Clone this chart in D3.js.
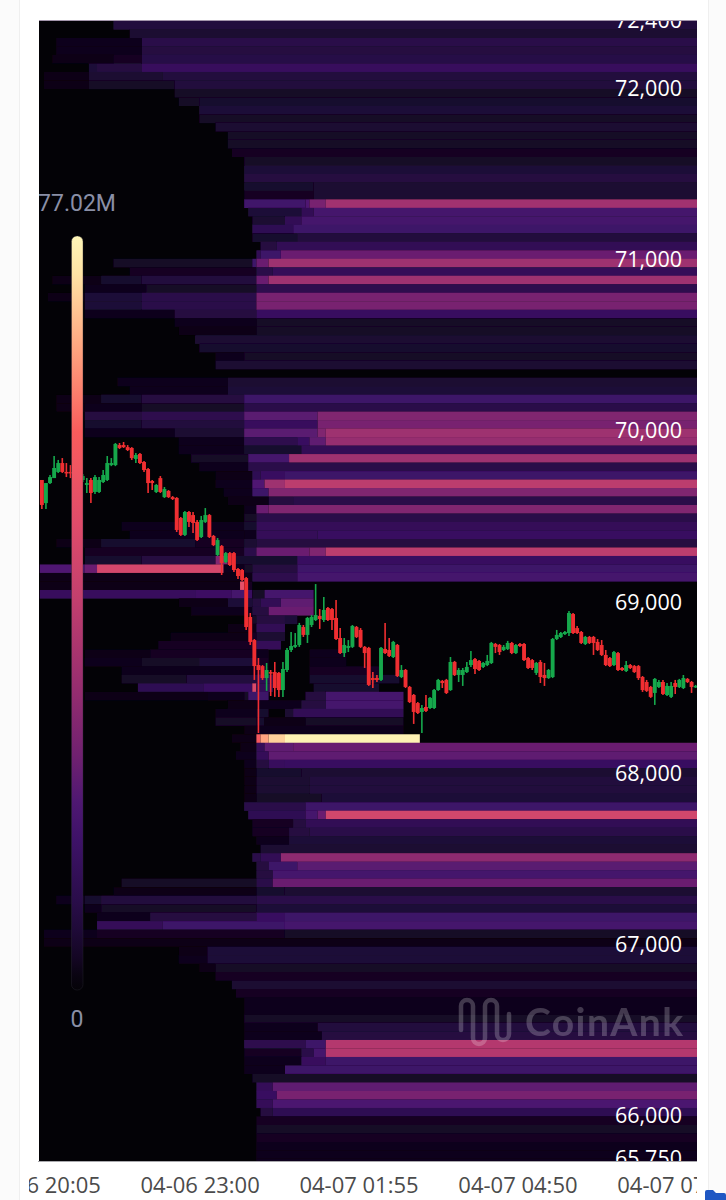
<!DOCTYPE html>
<html>
<head>
<meta charset="utf-8">
<script src="https://cdnjs.cloudflare.com/ajax/libs/d3/7.8.5/d3.min.js"></script>
<style>
html, body { margin: 0; padding: 0; background: #fbfbfb; }
svg { display: block; }
text { font-family: "Open Sans", sans-serif; }
</style>
</head>
<body>
<script>
(function(){

//candles, BTC price
var opens = [69710,69575,69692,69721,69757,69809,69757,69757,69751,69733,69710,69681,69710,69640,69640,69698,69710,69797,69797,69914,69914,69902,69897,69833,69862,69815,69774,69704,69640,69721,69610,69646,69610,69605,69488,69389,69523,69505,69465,69377,69465,69505,69383,69272,69324,69231,69283,69283,69190,69184,69137,68910,68775,68629,68623,68553,68588,68588,68583,68483,68600,68717,68735,68746,68851,68805,68863,68892,68916,68892,68962,68956,68904,68787,68699,68729,68735,68851,68834,68735,68729,68553,68553,68542,68723,68717,68676,68746,68559,68600,68501,68454,68407,68355,68384,68378,68378,68483,68536,68542,68483,68647,68571,68571,68588,68629,68664,68653,68618,68629,68641,68752,68746,68717,68723,68758,68699,68752,68752,68670,68658,68583,68647,68571,68553,68559,68781,68793,68810,68816,68927,68845,68822,68752,68793,68793,68764,68746,68688,68670,68629,68699,68612,68594,68629,68623,68623,68559,68530,68501,68466,68501,68530,68454,68443,68524,68501,68495,68548,68530,68501];
var highs = [69710,69692,69739,69850,69827,69838,69809,69797,69768,69768,69745,69721,69721,69739,69727,69768,69850,69838,69926,69926,69932,69914,69902,69868,69868,69821,69780,69710,69686,69733,69669,69651,69616,69610,69494,69529,69529,69523,69476,69500,69546,69511,69389,69371,69330,69289,69289,69289,69196,69190,69143,68933,68781,68670,68629,68641,68600,68647,68588,68647,68729,68822,68816,68875,68863,68910,68921,69102,68956,69027,68968,68962,69009,68845,68787,68775,68863,68857,68845,68740,68735,68588,68571,68735,68875,68787,68770,68752,68629,68606,68507,68460,68413,68396,68454,68443,68489,68548,68542,68548,68676,68653,68612,68612,68647,68711,68670,68658,68647,68688,68764,68758,68752,68746,68770,68764,68752,68758,68758,68676,68664,68647,68658,68641,68606,68787,68834,68822,68828,68945,68933,68857,68828,68799,68799,68799,68781,68775,68717,68676,68711,68705,68618,68653,68635,68629,68629,68565,68542,68507,68553,68542,68542,68524,68530,68542,68548,68571,68553,68536,68513];
var lows = [69540,69540,69686,69721,69751,69751,69727,69721,69710,69721,69698,69634,69575,69628,69634,69692,69704,69791,69791,69891,69897,69879,69827,69809,69803,69757,69634,69651,69634,69634,69605,69605,69593,69406,69383,69383,69435,69400,69353,69371,69459,69371,69324,69266,69155,69225,69207,69172,69132,69120,68834,68746,68542,68232,68542,68478,68448,68443,68443,68443,68588,68705,68729,68735,68793,68758,68851,68886,68840,68880,68886,68834,68775,68693,68676,68705,68729,68787,68729,68612,68507,68495,68530,68536,68693,68676,68670,68559,68553,68495,68407,68285,68343,68232,68355,68372,68372,68478,68495,68460,68478,68565,68530,68507,68583,68618,68577,68594,68612,68623,68635,68699,68688,68711,68717,68693,68693,68735,68653,68606,68600,68571,68524,68507,68548,68553,68775,68787,68805,68799,68810,68810,68752,68746,68752,68688,68711,68682,68623,68618,68623,68594,68594,68588,68606,68583,68542,68472,68472,68437,68396,68495,68454,68448,68437,68460,68495,68489,68524,68466,68495];
var closes = [69564,69692,69727,69780,69809,69757,69751,69751,69733,69757,69733,69692,69634,69727,69710,69739,69809,69809,69920,69897,69902,69885,69838,69856,69809,69768,69692,69692,69681,69640,69657,69610,69599,69418,69389,69523,69465,69459,69359,69476,69505,69377,69330,69359,69225,69283,69213,69184,69149,69126,68851,68764,68623,68600,68553,68600,68583,68495,68483,68606,68717,68740,68746,68863,68805,68904,68910,68921,68898,68951,68892,68892,68781,68699,68746,68740,68857,68793,68735,68699,68513,68542,68542,68729,68699,68682,68764,68565,68600,68501,68413,68355,68349,68378,68361,68437,68483,68542,68524,68466,68647,68571,68600,68600,68618,68658,68606,68600,68641,68653,68758,68735,68705,68735,68758,68699,68746,68740,68658,68612,68612,68641,68559,68553,68600,68781,68805,68816,68822,68933,68816,68816,68758,68793,68758,68758,68717,68688,68629,68623,68705,68600,68600,68629,68612,68588,68553,68483,68478,68443,68548,68530,68460,68507,68507,68501,68542,68553,68530,68501,68507];

//liquidation heat rows, top to bottom: start candle, share of the 77.02M peak (%), ...
var heatRows = [
[18,9],[22,7],[4,3,25,12],[4,3,25,10],[3,2,18,4,25,11],[12,8,14,10,25,17],[1,2,12,7,30,9],[1,2,12,5,33,9],
[33,5],[34,5,39,6],[39,8],[39,5],[43,7],[46,5],[46,5],[47,4],[50,5],[50,8],[50,10],[50,6,67,7],[50,4,67,7],
[50,21,65,25,66,33,70,43],[51,8,64,15,67,22],[52,7,60,15,64,22],[52,14,62,20],[52,6,63,9],[54,10,58,15],
[53,15,54,20,59,30],[18,5,52,20,53,30,56,42],[22,4,53,12,57,16],[3,2,15,6,25,9,53,30,56,42],[11,3,26,5,53,13],
[2,2,11,8,25,12,53,33],[11,8,25,12,53,33],[11,3,33,10,53,18],[33,3,53,5],[34,2,53,5],[38,7],[39,6],[43,3,50,5],
[43,7],[],[19,3,46,7],[22,3,46,8],[4,2,15,6,25,10,50,20],[4,2,11,3,25,5,50,12],[11,10,25,13,50,27,68,35],
[11,6,25,9,50,17,68,33],[11,3,33,7,50,27,68,35,70,42],[34,3,50,13,63,18,66,28,70,40],[34,3,50,6,64,15],
[37,5,51,22,61,42],[39,3,51,12],[43,2,52,14,54,18,60,20],[43,3,52,25,55,42,60,50],[45,3,52,20,56,35],
[46,2,56,10,62,12],[50,3,53,30,56,35],[50,5,53,12],[20,3,50,6,53,16],[22,3,50,3,53,16,68,18],
[4,2,15,6,38,4,50,7,53,10],[11,4,50,12,53,30,66,35,70,50],[11,6,25,10,43,35,46,6,63,18],
[0,25,11,30,14,58,45,3,50,5,52,10,63,20],[0,2,52,13,63,22],[0,2,49,65,50,4,52,0],
[0,17,38,19,47,22,50,18,52,5,55,22,67,0],[34,2,46,8,52,10,54,15,59,28,67,0],[37,3,52,10,56,30,67,0],
[52,5,53,10,60,8,63,0],[46,2,53,15,60,0],[32,2,52,4,53,7,60,0],[29,4,52,5,53,16,59,0],
[11,2,27,4,52,3,56,0,66,3,75,0],[11,3,25,5,39,8,53,4,56,0,66,3,75,0],[20,3,53,4,56,0,66,4,83,0],
[20,5,36,9,53,14,57,0,66,6,88,0],[24,14,40,18,52,60,53,15,57,0,67,6,83,0],
[11,2,41,3,50,5,51,20,56,0,65,10,70,22,89,0],[46,2,53,3,64,10,70,22,89,0],[43,3,53,6,56,0,60,7,62,15,89,0],
[43,5,53,6,55,2,65,5,89,0],[50,2,53,3,89,0],[47,2,53,72,54,85,56,92,60,99,93,0],
[49,2,53,16,55,28,62,30],[48,3,53,16,56,28],[50,3,53,10,56,17,60,18],[50,2,53,6,64,7],[50,2,53,7,66,9],
[50,2,53,7,66,9],[50,2,53,5,69,8],[50,12,65,20],[51,14,65,22,68,30,70,57],[52,4,62,10,65,15],
[52,4,61,10,66,12],[53,3,61,8],[54,7],[52,12,54,15,59,38],[53,10,56,20,63,27],[53,10,57,22],
[20,5,53,12,57,30],[18,2,53,6,60,7],[4,3,11,6,15,9,53,12],[11,3,15,5,53,8],[14,3,27,10,53,18,60,20],
[14,16,30,20,60,22],[1,3,14,4,60,5],[1,2],[34,2,41,8],[34,3,41,8],[39,2,43,5],[43,4],[47,7],[48,4],[50,3],
[50,3],[50,5],[50,3,68,9],[50,3,69,10],[50,13,65,20,70,48],[50,4,64,12,67,22,70,48],[50,3,64,17,70,20],
[50,3,60,20],[52,5],[53,16,57,28],[53,18,58,33],[53,16,57,24],[54,10,57,14],[53,4],[53,5],[53,4],[53,3],
[53,3],[53,3]
];

var priceTicks = [72400,72000,71000,70000,69000,68000,67000,66000,65750];
var timeTicks = ["2024-04-06T20:05Z","2024-04-06T23:00Z","2024-04-07T01:55Z","2024-04-07T04:50Z","2024-04-07T07:45Z"];

//colour ramp for the share of the peak
var rampStops = [0,2,4,8,12,20,25,30.5,40,51.7,62,74,85,95,100];
var rampColors = ["#050308","#0a0412","#130622","#1f0a38","#2a0d4a","#3e1268","#4f1872","#6d2070","#962d6f","#c23f6e","#e04c6a","#fa5c5c","#ffa47f","#ffe3a5","#fff6b8"];

var startTime = Date.UTC(2024,3,6,20,4), step = 4.5*60000; //candle spacing as read against the time labels
var rowStep = 49.6; //price height of one heat row
var left = 39, right = 697, top = 21, bottom = 1161;

var width = 726, height = 1200;

var svg = d3.select("body").append("svg")
    .attr("width", width)
    .attr("height", height);

var x = d3.scaleUtc()
    .domain([startTime - 0.2*step, startTime + 160.83*step])
    .range([left, right]);
var y = d3.scaleLinear()
    .domain([72391, 65732])
    .range([top, bottom]);
var color = d3.scaleLinear()
    .domain(rampStops)
    .range(rampColors);

var candleX = function(i){ return x(startTime + i*step); };
var slot = candleX(1) - candleX(0);

var defs = svg.append("defs");
defs.append("clipPath").attr("id", "plotClip").append("rect")
    .attr("x", left).attr("y", top).attr("width", right-left).attr("height", bottom-top);
defs.append("clipPath").attr("id", "timeClip").append("rect")
    .attr("x", 29).attr("y", bottom).attr("width", right-29).attr("height", 39);
var grad = defs.append("linearGradient").attr("id", "rampGrad")
    .attr("x1", 0).attr("y1", 1).attr("x2", 0).attr("y2", 0);
grad.selectAll("stop").data(rampStops).enter().append("stop")
    .attr("offset", function(d){ return d + "%"; })
    .attr("stop-color", function(d, i){ return rampColors[i]; });
defs.append("filter").attr("id", "soften")
    .attr("x", "-2%").attr("y", "-2%").attr("width", "104%").attr("height", "104%")
    .append("feGaussianBlur").attr("stdDeviation", "0.7 0.35");
defs.append("filter").attr("id", "softenCandles")
    .attr("x", "-2%").attr("y", "-2%").attr("width", "104%").attr("height", "104%")
    .append("feGaussianBlur").attr("stdDeviation", "0.3");

//card behind the chart
svg.append("rect")
    .attr("x", 19.5).attr("y", -2).attr("width", 689).attr("height", 1210)
    .attr("fill", "#fff").attr("stroke", "#efefef");

//black plot background
svg.append("rect")
    .attr("x", left).attr("y", top).attr("width", right-left).attr("height", bottom-top)
    .attr("fill", "#030206");

var plot = svg.append("g").attr("clip-path", "url(#plotClip)");

//flatten runs into cells
var cells = [];
heatRows.forEach(function(row, r){
    for (var k=0; k<row.length; k+=2){
        if (row[k+1] > 0){
            cells.push({
                row: r,
                from: row[k],
                to: k+2 < row.length ? row[k+2] : 165,
                level: row[k+1]
            });
        }
    }
});

var rowPrice = function(r){ return y.domain()[0] - r*rowStep; };

plot.append("g").attr("filter", "url(#soften)")
    .selectAll(".cell")
    .data(cells)
    .enter()
    .append("rect")
    .attr("class", "cell")
    .attr("x", function(d){ return candleX(d.from); })
    .attr("width", function(d){ return candleX(d.to) - candleX(d.from); })
    .attr("y", function(d){ return y(rowPrice(d.row)); })
    .attr("height", function(d){ return y(rowPrice(d.row+1)) - y(rowPrice(d.row)) + 0.2; })
    .attr("fill", function(d){ return color(d.level); });

//candles
var candles = d3.range(opens.length);
var candleGroup = plot.append("g").attr("filter", "url(#softenCandles)");
candleGroup.selectAll(".wick")
    .data(candles)
    .enter()
    .append("line")
    .attr("class", "wick")
    .attr("x1", function(i){ return candleX(i) + slot/2; })
    .attr("x2", function(i){ return candleX(i) + slot/2; })
    .attr("y1", function(i){ return y(highs[i]); })
    .attr("y2", function(i){ return y(lows[i]); })
    .attr("stroke-width", 1.6)
    .attr("stroke", function(i){ return closes[i] >= opens[i] ? "#14a84c" : "#f02f30"; });
candleGroup.selectAll(".body")
    .data(candles)
    .enter()
    .append("rect")
    .attr("class", "body")
    .attr("x", function(i){ return candleX(i) + 0.1; })
    .attr("width", slot - 0.2)
    .attr("y", function(i){ return y(Math.max(opens[i], closes[i])); })
    .attr("height", function(i){ return Math.max(1.5, Math.abs(y(opens[i]) - y(closes[i]))); })
    .attr("fill", function(i){ return closes[i] >= opens[i] ? "#14a84c" : "#f02f30"; });

//price axis, labels cut by the plot frame
var yAxis = d3.axisLeft(y)
    .tickValues(priceTicks)
    .tickSize(0)
    .tickFormat(d3.format(","));
plot.append("g")
    .attr("class", "yAxis")
    .attr("transform", "translate(682,0.7)")
    .call(yAxis)
    .call(function(g){ g.select(".domain").remove(); })
    .selectAll("text")
    .attr("x", 0)
    .attr("fill", "#fff")
    .style("font-family", "'Open Sans', sans-serif")
    .style("font-size", "21.5px");

//watermark
var mark = plot.append("g").attr("opacity", 0.22);
mark.append("path")
    .attr("d", "M461,1030 V1006 a6,6 0 0 1 12,0 V1038 a6,6 0 0 0 12,0 V1006 a6,6 0 0 1 12,0 V1034 a6,6 0 0 0 12,0 V1014")
    .attr("fill", "none")
    .attr("stroke", "#fff")
    .attr("stroke-width", 4.5)
    .attr("stroke-linecap", "round");
mark.append("text")
    .attr("x", 525).attr("y", 1036)
    .attr("fill", "#fff")
    .style("font-family", "Lato, sans-serif")
    .style("font-weight", 700)
    .style("font-size", "39px")
    .style("letter-spacing", "1.4px")
    .text("CoinAnk");

//legend
plot.append("text")
    .attr("x", 77).attr("y", 211)
    .attr("text-anchor", "middle")
    .attr("fill", "#8a8fa6")
    .style("font-family", "Roboto, sans-serif")
    .style("font-size", "23px")
    .text("77.02M");
plot.append("rect")
    .attr("x", 71.5).attr("y", 236).attr("width", 11.5).attr("height", 754).attr("rx", 5.5)
    .attr("fill", "url(#rampGrad)")
    .attr("stroke", "#2b2836").attr("stroke-width", 0.4);
plot.append("text")
    .attr("x", 77).attr("y", 1027)
    .attr("text-anchor", "middle")
    .attr("fill", "#8a8fa6")
    .style("font-family", "Roboto, sans-serif")
    .style("font-size", "23px")
    .text("0");

//time axis
var xAxis = d3.axisBottom(x)
    .tickValues(timeTicks.map(function(d){ return new Date(d); }))
    .tickSize(0)
    .tickPadding(0)
    .tickFormat(d3.utcFormat("%m-%d %H:%M"));
svg.append("g")
    .attr("clip-path", "url(#timeClip)")
    .append("g")
    .attr("class", "xAxis")
    .attr("transform", "translate(0," + bottom + ")")
    .call(xAxis)
    .call(function(g){ g.select(".domain").remove(); })
    .selectAll("text")
    .attr("y", 16)
    .attr("fill", "#4b4b4b")
    .style("font-family", "'Open Sans', sans-serif")
    .style("font-size", "22px");
svg.append("line")
    .attr("x1", 38).attr("x2", right)
    .attr("y1", bottom+0.5).attr("y2", bottom+0.5)
    .attr("stroke", "#a9a9ad");
svg.append("line")
    .attr("x1", left).attr("x2", right)
    .attr("y1", top-0.5).attr("y2", top-0.5)
    .attr("stroke", "#8c7a96").attr("stroke-width", 0.8);

//blue badge in the corner
svg.append("path")
    .attr("d", "M705,1200 V1192 a2,2 0 0 1 2,-2 H713 l3,3 H724 a2,2 0 0 1 2,2 V1200 Z")
    .attr("fill", "#1f57c3");

})();
</script>
</body>
</html>
